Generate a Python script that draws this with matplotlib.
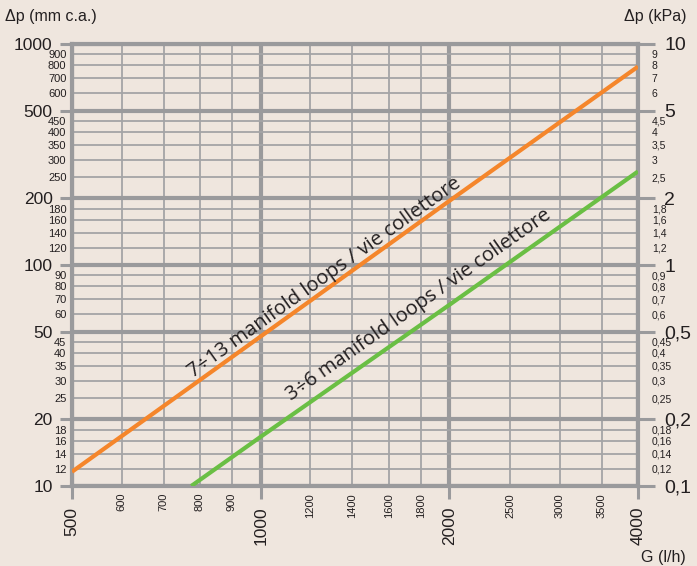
import numpy as np
import matplotlib
matplotlib.use("Agg")
import matplotlib.pyplot as plt
from matplotlib.ticker import FixedLocator, FixedFormatter

# ---- data ----
flow_orange = [500, 1000, 2000, 4000]
dp_orange = [11.6, 47.5, 195, 790]
flow_green = [775, 1000, 2000, 4000]
dp_green = [10, 16.7, 66, 265]
label_orange = "7÷13 manifold loops / vie collettore"
label_green = "3÷6 manifold loops / vie collettore"

x_major = [500, 1000, 2000, 4000]
x_minor = [600, 700, 800, 900, 1200, 1400, 1600, 1800, 2500, 3000, 3500]
y_major = [10, 20, 50, 100, 200, 500, 1000]
y_minor = [12, 14, 16, 18, 25, 30, 35, 40, 45, 60, 70, 80, 90,
           120, 140, 160, 180, 250, 300, 350, 400, 450, 600, 700, 800, 900]
k_major = [0.1, 0.2, 0.5, 1, 2, 5, 10]
k_major_lbl = ["0,1", "0,2", "0,5", "1", "2", "5", "10"]
k_minor = [0.12, 0.14, 0.16, 0.18, 0.25, 0.3, 0.35, 0.4, 0.45, 0.6, 0.7, 0.8, 0.9,
           1.2, 1.4, 1.6, 1.8, 2.5, 3, 3.5, 4, 4.5, 6, 7, 8, 9]
k_minor_lbl = ["0,12", "0,14", "0,16", "0,18", "0,25", "0,3", "0,35", "0,4", "0,45",
               "0,6", "0,7", "0,8", "0,9", "1,2", "1,4", "1,6", "1,8", "2,5", "3",
               "3,5", "4", "4,5", "6", "7", "8", "9"]

BG = "#efe6de"
GRID = "#a4a4a6"
MAJ = "#9a9a9c"
ORANGE = "#f5862b"
GREEN = "#6abf44"
TXT = "#231f20"

plt.rcParams['font.family'] = ['Liberation Sans', 'DejaVu Sans']

fig = plt.figure(figsize=(6.97, 5.66), dpi=100, facecolor=BG)
ax = fig.add_axes([72/697, 80/566, 566/697, 442/566])
ax.set_facecolor(BG)
ax.set_xscale('log')
ax.set_yscale('log')
ax.set_xlim(500, 4000)
ax.set_ylim(10, 1000)

ax.xaxis.set_major_locator(FixedLocator(x_major))
ax.xaxis.set_major_formatter(FixedFormatter([str(v) for v in x_major]))
ax.xaxis.set_minor_locator(FixedLocator(x_minor))
ax.xaxis.set_minor_formatter(FixedFormatter([str(v) for v in x_minor]))
ax.yaxis.set_major_locator(FixedLocator(y_major))
ax.yaxis.set_major_formatter(FixedFormatter([str(v) for v in y_major]))
ax.yaxis.set_minor_locator(FixedLocator(y_minor))
ax.yaxis.set_minor_formatter(FixedFormatter([str(v) for v in y_minor]))

ax.grid(which='minor', color=GRID, lw=1.3, zorder=0)
ax.grid(which='major', color=MAJ, lw=3, zorder=0.5)
ax.set_axisbelow(True)
for s in ax.spines.values():
    s.set_color(MAJ)
    s.set_linewidth(3)

ax.tick_params(axis='y', which='major', length=9, width=2.2, color=MAJ,
               labelsize=12.5, labelcolor=TXT, pad=5)
ax.tick_params(axis='y', which='minor', length=0, labelsize=8,
               labelcolor=TXT, pad=4)
ax.tick_params(axis='x', which='major', length=9, width=2.2, color=MAJ,
               labelsize=12.5, labelcolor=TXT, pad=6, labelrotation=90)
ax.tick_params(axis='x', which='minor', length=0, labelsize=8,
               labelcolor=TXT, pad=5, labelrotation=90)
for lab in ax.get_xticklabels(which='both'):
    lab.set_va('top')

ax.plot(flow_orange, dp_orange, color=ORANGE, lw=3.0, solid_capstyle='butt', zorder=3)
ax.plot(flow_green, dp_green, color=GREEN, lw=3.0, solid_capstyle='butt', zorder=3)

# right axis (kPa)
ax2 = ax.twinx()
ax2.set_yscale('log')
ax2.set_ylim(0.1, 10)
for s in ax2.spines.values():
    s.set_visible(False)
ax2.yaxis.set_major_locator(FixedLocator(k_major))
ax2.yaxis.set_major_formatter(FixedFormatter(k_major_lbl))
ax2.yaxis.set_minor_locator(FixedLocator(k_minor))
ax2.yaxis.set_minor_formatter(FixedFormatter(k_minor_lbl))
ax2.tick_params(axis='y', which='major', length=12, width=2.2, color=MAJ,
                labelsize=14, labelcolor=TXT, pad=7)
ax2.tick_params(axis='y', which='minor', length=0, labelsize=7.5,
                labelcolor=TXT, pad=10)

# line labels, rotated along lines
fig.canvas.draw()
def angle_of(xs, ys):
    p = ax.transData.transform(np.column_stack([xs, ys]))
    return np.degrees(np.arctan2(p[-1, 1] - p[0, 1], p[-1, 0] - p[0, 0]))

ang_o = angle_of(flow_orange, dp_orange)
ang_g = angle_of(flow_green, dp_green)
ax.text(1265, 88, label_orange, rotation=ang_o, rotation_mode='anchor',
        ha='center', va='center', fontsize=14.5, color=TXT,
        family=['Open Sans', 'DejaVu Sans'], zorder=4)
ax.text(1790, 66, label_green, rotation=ang_g, rotation_mode='anchor',
        ha='center', va='center', fontsize=14.5, color=TXT,
        family=['Open Sans', 'DejaVu Sans'], zorder=4)

# axis titles
fig.text(5/697, 1 - 16/566, "Δp (mm c.a.)", fontsize=11.5, color=TXT,
         ha='left', va='center')
fig.text(686/697, 1 - 16/566, "Δp (kPa)", fontsize=11.5, color=TXT,
         ha='right', va='center')
fig.text(686/697, 1 - 550/566, "G (l/h)", fontsize=11.5, color=TXT,
         ha='right', va='top')

fig.savefig("out.png", dpi=100, facecolor=BG)
